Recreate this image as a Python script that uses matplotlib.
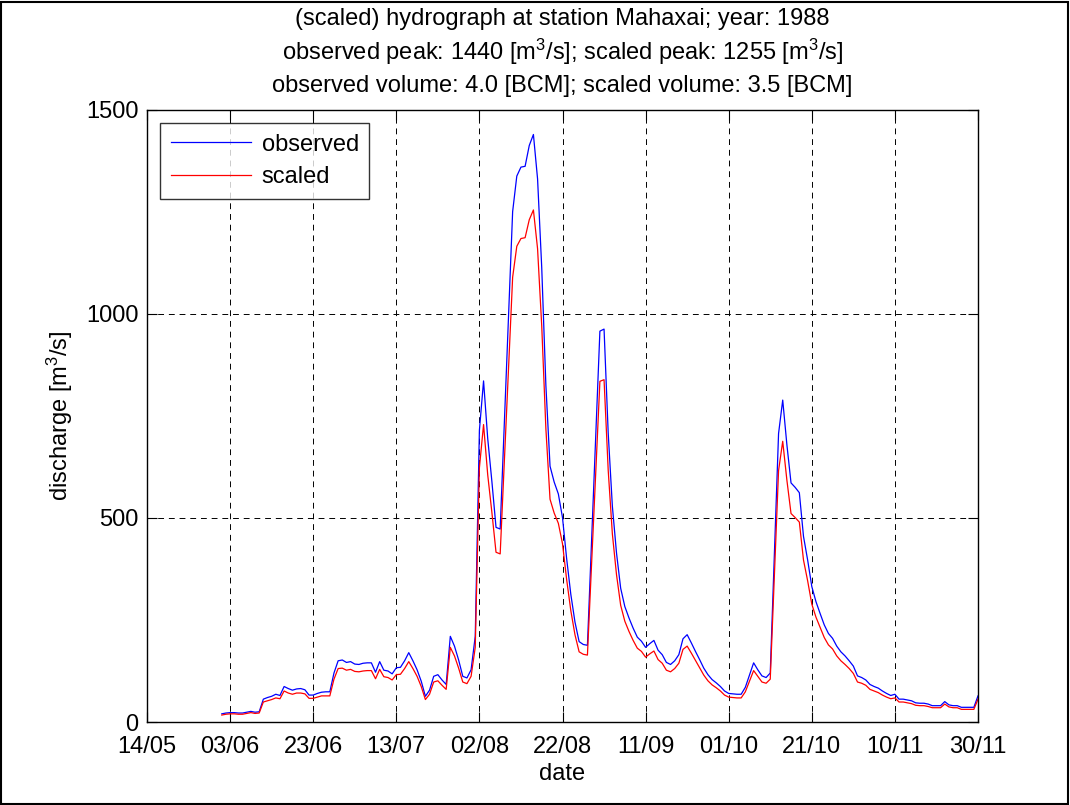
import matplotlib
matplotlib.use("Agg")
import matplotlib.pyplot as plt
import numpy as np
import pandas as pd
from matplotlib.patches import Rectangle

plt.rcParams['font.family'] = ['Liberation Sans', 'DejaVu Sans']
plt.rcParams['mathtext.fontset'] = 'custom'
plt.rcParams['mathtext.rm'] = 'Liberation Sans'
plt.rcParams['mathtext.it'] = 'Liberation Sans:italic'

# ---- data -----------------------------------------------------------
start_date = "1988-06-01"
observed = [
    20, 22, 23, 23, 22, 22, 24, 26, 24, 25,
    56, 60, 63, 68, 65, 87, 82, 78, 81, 82,
    79, 66, 66, 70, 73, 74, 74, 120, 150, 152,
    146, 148, 142, 141, 144, 145, 145, 122, 148, 127,
    125, 118, 133, 134, 150, 170, 150, 128, 100, 63,
    78, 112, 116, 103, 92, 210, 186, 152, 112, 108,
    128, 210, 715, 836, 695, 590, 477, 473, 733, 992,
    1251, 1338, 1360, 1362, 1413, 1440, 1331, 1114, 825, 627,
    588, 559, 501, 400, 313, 245, 197, 190, 188, 445,
    700, 958, 963, 708, 529, 414, 328, 283, 255, 230,
    208, 198, 183, 192, 200, 176, 165, 146, 141, 150,
    165, 204, 214, 194, 173, 153, 132, 116, 104, 96,
    87, 76, 70, 69, 68, 68, 85, 115, 145, 128,
    113, 109, 120, 414, 707, 789, 680, 586, 575, 562,
    455, 397, 332, 295, 266, 238, 217, 205, 186, 172,
    162, 150, 137, 113, 109, 103, 92, 87, 83, 76,
    70, 65, 68, 56, 56, 54, 52, 47, 46, 46,
    44, 40, 40, 40, 50, 42, 40, 40, 36, 36,
    36, 36, 64,
]
scaled = [
    17, 19, 20, 20, 19, 19, 21, 23, 21, 22,
    49, 52, 55, 59, 57, 76, 71, 68, 71, 71,
    69, 58, 58, 61, 64, 64, 64, 105, 131, 132,
    127, 129, 124, 123, 125, 126, 126, 106, 129, 111,
    109, 103, 116, 117, 131, 148, 131, 112, 87, 55,
    68, 98, 101, 90, 80, 183, 162, 132, 98, 94,
    112, 183, 623, 729, 606, 514, 416, 412, 639, 865,
    1090, 1166, 1185, 1187, 1231, 1255, 1160, 971, 719, 546,
    512, 487, 437, 349, 273, 214, 172, 166, 164, 388,
    610, 835, 839, 617, 461, 361, 286, 247, 222, 200,
    181, 173, 159, 167, 174, 153, 144, 127, 123, 131,
    144, 178, 186, 169, 151, 133, 115, 101, 91, 84,
    76, 66, 61, 60, 59, 59, 74, 100, 126, 112,
    98, 95, 105, 361, 616, 688, 593, 511, 501, 490,
    397, 346, 289, 257, 232, 207, 189, 179, 162, 150,
    141, 131, 119, 98, 95, 90, 80, 76, 72, 66,
    61, 57, 59, 49, 49, 47, 45, 41, 40, 40,
    38, 35, 35, 35, 44, 37, 35, 35, 31, 31,
    31, 31, 56,
]
tick_labels = ["14/05", "03/06", "23/06", "13/07", "02/08", "22/08",
               "11/09", "01/10", "21/10", "10/11", "30/11"]
y_ticks = [0, 500, 1000, 1500]

dates = pd.date_range(start_date, periods=len(observed), freq="D")
tick_dates = pd.date_range("1988-05-14", periods=len(tick_labels), freq="20D")

# ---- figure ---------------------------------------------------------
fig = plt.figure(figsize=(10.70, 8.05), dpi=100)
ax = fig.add_axes([147/1070, 1 - 722/805, 831/1070, 612/805])

ax.plot(dates, observed, color=(0, 0, 1), lw=0.9, label="observed")
ax.plot(dates, scaled, color=(1, 0, 0), lw=0.9, label="scaled")

ax.set_xlim(tick_dates[0], tick_dates[-1])
ax.set_ylim(0, 1500)
ax.set_xticks(tick_dates)
ax.set_xticklabels(tick_labels)
ax.set_yticks(y_ticks)
ax.tick_params(direction="in", length=7, width=0.8, top=True, right=True,
               labelsize=17)
ax.tick_params(axis="x", pad=10)
ax.tick_params(axis="y", pad=6)
for lbl in ax.get_yticklabels():
    lbl.set_verticalalignment("center_baseline")
for s in ax.spines.values():
    s.set_linewidth(1.0)
ax.grid(True, color="k", linestyle=(0, (6, 5)), linewidth=0.7)

ax.set_xlabel("date", fontsize=17, labelpad=4)
ax.set_ylabel("discharge [m$^3$/s]", fontsize=17, labelpad=8)

title_lines = [
    "(scaled) hydrograph at station Mahaxai; year: 1988",
    "observed peak: 1440 [m$^3$/s]; scaled peak: 1255 [m$^3$/s]",
    "observed volume: 4.0 [BCM]; scaled volume: 3.5 [BCM]",
]
for txt, ypx in zip(title_lines, [19, 52, 86]):
    fig.text(0.5 * (147 + 978) / 1070, 1 - ypx / 805, txt, ha="center",
             va="center", fontsize=17)

leg = ax.legend(loc="upper left", fontsize=17, frameon=True, fancybox=False,
                borderaxespad=0.55, handlelength=3.4, handletextpad=0.45,
                borderpad=0.45, labelspacing=0.45)
leg.get_frame().set_edgecolor("k")
leg.get_frame().set_linewidth(1.0)

fig.patches.append(Rectangle((0.001, 0.001), 0.997, 0.997, transform=fig.transFigure,
                             fill=False, edgecolor="k", linewidth=1.5))

fig.savefig("out.png", dpi=100, facecolor="white")
